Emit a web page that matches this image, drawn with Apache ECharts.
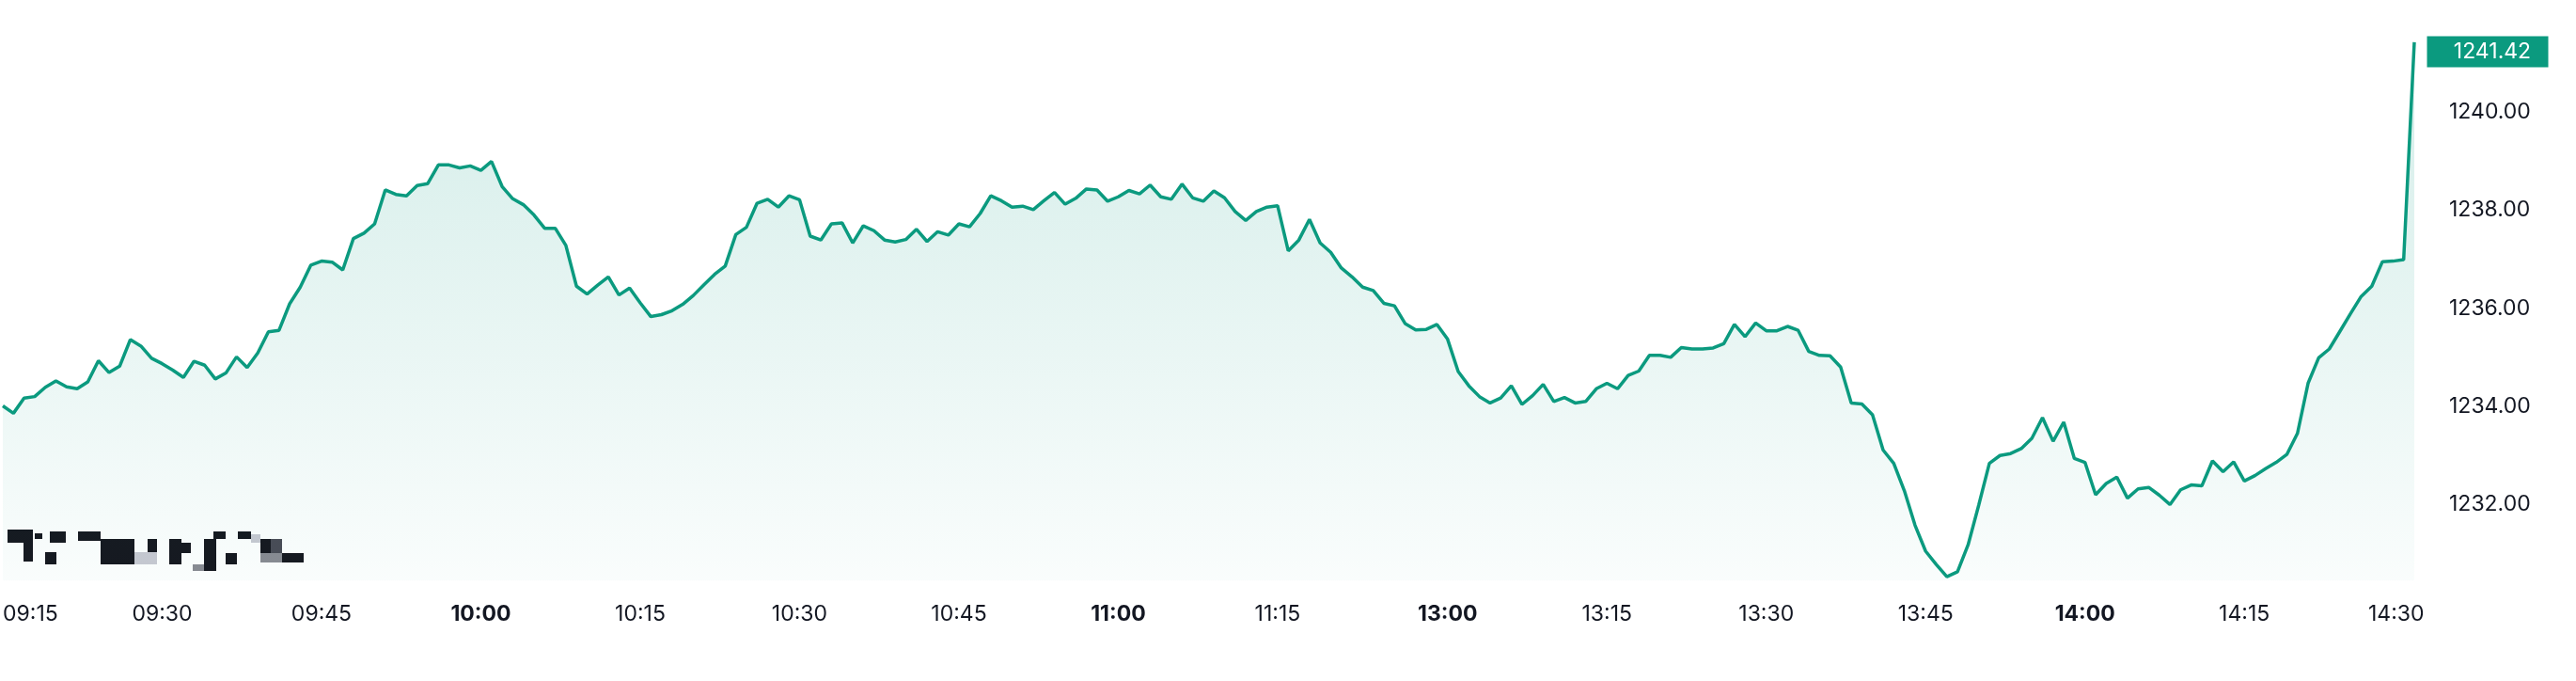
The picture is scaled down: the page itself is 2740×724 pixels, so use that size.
<!DOCTYPE html>
<html>
<head>
<meta charset="utf-8">
<script src="https://cdn.jsdelivr.net/npm/echarts@6.0.0/dist/echarts.min.js"></script>
<style>
html,body{margin:0;padding:0;background:#ffffff;}
#chart{width:2740px;height:724px;}
</style>
</head>
<body>
<div id="chart"></div>
<script>
// ---- data ----
const sessions = [['09:15', '11:30'], ['13:00', '14:31']];

const prices = [
  1234.01, 1233.86, 1234.17, 1234.20, 1234.39, 1234.52, 1234.40, 1234.36, 1234.50, 1234.93,
  1234.69, 1234.82, 1235.36, 1235.23, 1234.98, 1234.87, 1234.74, 1234.59, 1234.92, 1234.84,
  1234.56, 1234.68, 1235.01, 1234.79, 1235.09, 1235.52, 1235.55, 1236.09, 1236.43, 1236.88,
  1236.96, 1236.94, 1236.78, 1237.42, 1237.53, 1237.72, 1238.41, 1238.32, 1238.29,
  1238.50, 1238.54, 1238.92, 1238.92, 1238.86, 1238.90, 1238.81, 1238.99, 1238.48, 1238.23,
  1238.11, 1237.90, 1237.63, 1237.63, 1237.28, 1236.45, 1236.29, 1236.47, 1236.64, 1236.27,
  1236.41, 1236.11, 1235.83, 1235.87, 1235.95, 1236.08, 1236.26, 1236.48, 1236.69, 1236.86,
  1237.50, 1237.65, 1238.14, 1238.22, 1238.06, 1238.29, 1238.21, 1237.47,
  1237.39, 1237.72, 1237.74, 1237.33, 1237.68, 1237.58, 1237.39, 1237.35, 1237.40, 1237.61,
  1237.36, 1237.56, 1237.49, 1237.72, 1237.66, 1237.93, 1238.29, 1238.19, 1238.06, 1238.08,
  1238.01, 1238.19, 1238.36, 1238.12, 1238.24, 1238.43, 1238.41, 1238.18, 1238.27, 1238.40,
  1238.33, 1238.51, 1238.27, 1238.22, 1238.53, 1238.25, 1238.18, 1238.39,
  1238.25, 1237.97, 1237.79, 1237.97, 1238.06, 1238.09, 1237.17, 1237.39, 1237.81, 1237.33,
  1237.14, 1236.82, 1236.64, 1236.43, 1236.36, 1236.10, 1236.05, 1235.69, 1235.56, 1235.57,
  1235.67, 1235.37, 1234.71, 1234.42, 1234.20, 1234.07, 1234.17, 1234.42, 1234.04, 1234.22,
  1234.45, 1234.10, 1234.18, 1234.07, 1234.10, 1234.36, 1234.47, 1234.36,
  1234.63, 1234.72, 1235.04, 1235.04, 1235.00, 1235.20, 1235.17, 1235.17, 1235.19, 1235.28,
  1235.67, 1235.42, 1235.70, 1235.54, 1235.54, 1235.63, 1235.55, 1235.12, 1235.04, 1235.03,
  1234.80, 1234.07, 1234.05, 1233.83, 1233.11, 1232.84, 1232.28, 1231.58, 1231.05, 1230.78,
  1230.53, 1230.63, 1231.18, 1231.99, 1232.84, 1233.00, 1233.04, 1233.14,
  1233.35, 1233.77, 1233.29, 1233.68, 1232.94, 1232.86, 1232.20, 1232.43, 1232.56, 1232.13,
  1232.32, 1232.35, 1232.19, 1232.00, 1232.30, 1232.40, 1232.38, 1232.89, 1232.67, 1232.87,
  1232.48, 1232.59, 1232.73, 1232.86, 1233.02, 1233.45, 1234.47, 1234.99, 1235.17, 1235.53,
  1235.89, 1236.24, 1236.45, 1236.95, 1236.96, 1236.99, 1241.42
];

const timeTickLabels = ['09:15', '09:30', '09:45', '10:00', '10:15', '10:30', '10:45', '11:00', '11:15',
  '13:00', '13:15', '13:30', '13:45', '14:00', '14:15', '14:30'];
const boldTickLabels = ['10:00', '11:00', '13:00', '14:00'];
const priceTickLabels = [1232, 1234, 1236, 1238, 1240];
const areaBaseValue = 1230.45;

// ---- build minute categories for the trading sessions ----
function toMin(s) { const p = s.split(':'); return (+p[0]) * 60 + (+p[1]); }
function toStr(m) { const h = Math.floor(m / 60), mm = m % 60; return (h < 10 ? '0' : '') + h + ':' + (mm < 10 ? '0' : '') + mm; }
const times = [];
sessions.forEach(function (s) { for (let m = toMin(s[0]); m <= toMin(s[1]); m++) times.push(toStr(m)); });

const GREEN = '#0b9a7f';
const FONT = 'Inter';
const lastIdx = prices.length - 1;

const chart = echarts.init(document.getElementById('chart'), null, { renderer: 'canvas' });

// pixelated watermark (decoration)
const wm = [
  [8, 563, 27, 14, '#16161e'], [25, 577, 10, 20, '#16161e'], [37, 567, 8, 6, '#16161e'],
  [53, 565, 17, 12, '#16161e'], [48, 587, 12, 13, '#16161e'],
  [83, 565, 24, 10, '#16161e'], [107, 573, 36, 27, '#16161e'], [143, 587, 24, 13, '#c9c9d2'],
  [157, 573, 10, 14, '#16161e'], [180, 573, 13, 27, '#16161e'], [193, 577, 10, 11, '#16161e'],
  [217, 573, 13, 34, '#16161e'], [205, 600, 12, 7, '#8a8a92'], [227, 565, 13, 8, '#16161e'],
  [240, 588, 12, 12, '#16161e'], [253, 565, 14, 8, '#16161e'], [267, 568, 10, 9, '#c9c9d2'],
  [277, 573, 12, 15, '#16161e'], [288, 573, 12, 15, '#4a4a55'], [277, 588, 23, 10, '#8a8a92'],
  [300, 588, 23, 10, '#16161e']
];

const option = {
  animation: false,
  backgroundColor: '#ffffff',
  grid: { left: 0, right: 172, top: 0, bottom: 83.2 },
  xAxis: {
    type: 'category',
    data: times,
    boundaryGap: false,
    axisLine: { show: false },
    axisTick: { show: false },
    splitLine: { show: false },
    axisLabel: {
      interval: function (idx, val) { return timeTickLabels.indexOf(val) >= 0; },
      alignMinLabel: 'left',
      margin: 0,
      lineHeight: 24,
      fontFamily: FONT,
      fontSize: 23,
      color: '#131722',
      formatter: function (val) {
        if (boldTickLabels.indexOf(val) >= 0) return '{b|' + val + '}';
        if (val === timeTickLabels[timeTickLabels.length - 1]) return '{e|' + val + '}';
        return '{n|' + val + '}';
      },
      rich: {
        n: { fontFamily: FONT, fontSize: 23, color: '#131722', lineHeight: 24 },
        b: { fontFamily: FONT, fontSize: 23, fontWeight: 'bold', color: '#131722', lineHeight: 24 },
        e: { fontFamily: FONT, fontSize: 23, color: '#131722', lineHeight: 24, padding: [0, 16, 0, 0] }
      }
    }
  },
  yAxis: {
    type: 'value',
    position: 'right',
    min: 1230,
    max: 1242.28,
    interval: 2,
    axisLine: { show: false },
    axisTick: { show: false },
    splitLine: { show: false },
    axisLabel: {
      margin: 37,
      align: 'left',
      fontFamily: FONT,
      fontSize: 23,
      color: '#131722',
      formatter: function (v) { return priceTickLabels.indexOf(v) >= 0 ? v.toFixed(2) : ''; }
    }
  },
  series: [{
    type: 'line',
    data: prices,
    showSymbol: false,
    symbol: 'none',
    lineStyle: { color: GREEN, width: 3.5 },
    areaStyle: {
      origin: areaBaseValue,
      color: new echarts.graphic.LinearGradient(0, 0, 0, 1, [
        { offset: 0, color: 'rgba(8,153,129,0.25)' },
        { offset: 1, color: 'rgba(8,153,129,0.03)' }
      ])
    },
    markPoint: {
      symbol: 'rect',
      symbolSize: [129, 33],
      symbolOffset: [78, 10],
      itemStyle: { color: GREEN },
      label: {
        show: true,
        position: 'inside',
        offset: [5, 0],
        color: '#ffffff',
        fontFamily: FONT,
        fontSize: 23,
        formatter: function (p) { return Number(p.value).toFixed(2); }
      },
      data: [{ coord: [lastIdx, prices[lastIdx]], value: prices[lastIdx] }]
    }
  }],
  graphic: wm.map(function (r) {
    return { type: 'rect', shape: { x: r[0], y: r[1], width: r[2], height: r[3] }, style: { fill: r[4] }, silent: true };
  })
};

chart.setOption(option);
</script>
</body>
</html>
